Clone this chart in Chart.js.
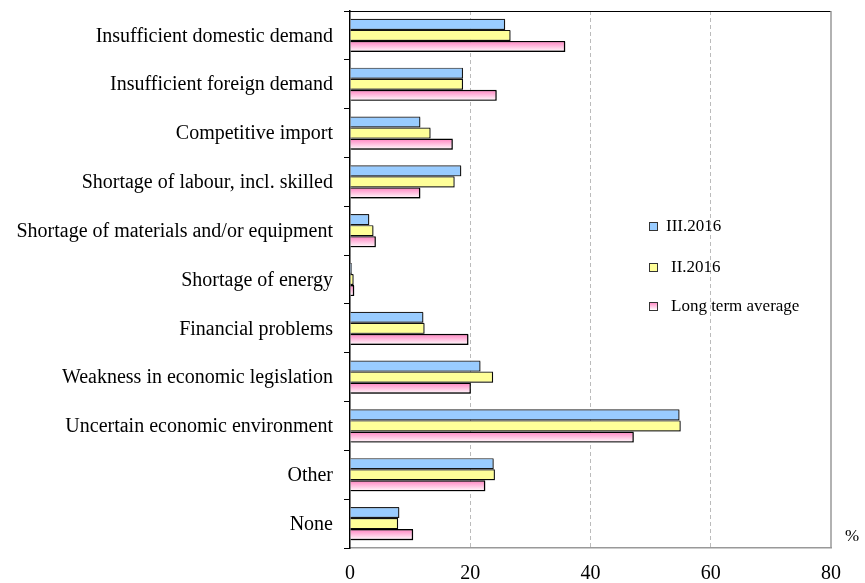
<!DOCTYPE html>
<html>
<head>
<meta charset="utf-8">
<script src="https://cdn.jsdelivr.net/npm/chart.js@4"></script>
<style>
  html, body { margin: 0; padding: 0; background: #fff; }
  #wrap { position: relative; width: 865px; height: 583px; }
  #pct { position: absolute; left: 845px; top: 526px; font: 17px "Liberation Serif", serif; color: #000; }
</style>
</head>
<body>
<div id="wrap">
  <canvas id="myChart" width="865" height="583"></canvas>
  <div id="pct">%</div>
</div>
<script>
const categories = [
  "Insufficient domestic demand",
  "Insufficient foreign demand",
  "Competitive import",
  "Shortage of labour, incl. skilled",
  "Shortage of materials and/or equipment",
  "Shortage of energy",
  "Financial problems",
  "Weakness in economic legislation",
  "Uncertain economic environment",
  "Other",
  "None"
];
const seriesNames = ["III.2016", "II.2016", "Long term average"];
const q3_2016 = [25.8, 18.8, 11.7, 18.5, 3.2, 0.3, 12.2, 21.7, 54.8, 23.9, 8.2];
const q2_2016 = [26.7, 18.8, 13.4, 17.4, 3.9, 0.6, 12.4, 23.8, 55.0, 24.1, 8.0];
const longTerm = [35.8, 24.4, 17.1, 11.7, 4.3, 0.7, 19.7, 20.1, 47.2, 22.5, 10.5];
const xTicks = [0, 20, 40, 60, 80];

const FONT = "'Liberation Serif', 'Times New Roman', serif";
const CAT_PCT = 0.68;

// pink bars fade from pink at the top edge to white at the bottom
function pinkFill(c) {
  const chart = c.chart;
  const y = chart.scales.y;
  if (!y || c.dataIndex === undefined) return "#ff99cc";
  const p0 = y.getPixelForValue(0);
  const p1 = y.getPixelForValue(1);
  const mid = y.getPixelForValue(c.dataIndex);
  if (!isFinite(p0) || !isFinite(p1) || !isFinite(mid)) return "#ff99cc";
  const group = Math.abs(p1 - p0) * CAT_PCT;
  const g = chart.ctx.createLinearGradient(0, mid + group / 6, 0, mid + group / 2);
  g.addColorStop(0, "#ff7fbf");
  g.addColorStop(1, "#ffffff");
  return g;
}

const boxLines = {
  id: "boxLines",
  beforeDatasetsDraw(chart) {
    const ctx = chart.ctx;
    ctx.save();
    ctx.shadowColor = "rgba(0,0,0,0.4)";
    ctx.shadowOffsetX = 1;
    ctx.shadowOffsetY = 1;
  },
  afterDatasetsDraw(chart) {
    chart.ctx.restore();
  },
  afterDraw(chart) {
    const ctx = chart.ctx;
    const a = chart.chartArea;
    ctx.save();
    ctx.lineWidth = 1;
    ctx.strokeStyle = "#000";
    ctx.beginPath();
    ctx.moveTo(a.left, a.top + 0.5);
    ctx.lineTo(a.right, a.top + 0.5);
    ctx.stroke();
    ctx.strokeStyle = "#999";
    ctx.lineWidth = 1.5;
    ctx.beginPath();
    ctx.moveTo(a.right, a.top);
    ctx.lineTo(a.right, a.bottom);
    ctx.stroke();

    // legend inside the plot
    const colors = ["#99ccff", "#ffff99", null];
    const x0 = a.left + 299;
    const ys = [226, 267, 306];
    ctx.font = "17px " + FONT;
    ctx.textBaseline = "middle";
    seriesNames.forEach((name, i) => {
      const y = ys[i];
      if (colors[i]) {
        ctx.fillStyle = colors[i];
      } else {
        const g = ctx.createLinearGradient(0, y - 4, 0, y + 4);
        g.addColorStop(0, "#ff7fbf");
        g.addColorStop(1, "#ffffff");
        ctx.fillStyle = g;
      }
      ctx.fillRect(x0, y - 4, 8, 8);
      ctx.strokeStyle = "#333";
      ctx.lineWidth = 1;
      ctx.strokeRect(x0 + 0.5, y - 3.5, 8, 8);
      ctx.fillStyle = "#000";
      ctx.fillText(name, x0 + (i === 0 ? 17 : 22), y + 1);
    });
    ctx.restore();
  }
};

const ctx = document.getElementById("myChart");
new Chart(ctx, {
  type: "bar",
  data: {
    labels: categories,
    datasets: [
      { label: seriesNames[0], data: q3_2016, backgroundColor: "#99ccff", borderColor: "#222", borderWidth: 1.2 },
      { label: seriesNames[1], data: q2_2016, backgroundColor: "#ffff99", borderColor: "#111", borderWidth: 1.2 },
      { label: seriesNames[2], data: longTerm, backgroundColor: pinkFill, borderColor: "#000", borderWidth: 1.4 }
    ]
  },
  options: {
    indexAxis: "y",
    responsive: false,
    animation: false,
    categoryPercentage: CAT_PCT,
    barPercentage: 1,
    layout: { padding: { top: 11, right: 34, left: 0, bottom: 0 } },
    plugins: {
      legend: { display: false },
      tooltip: { enabled: false }
    },
    scales: {
      x: {
        min: 0,
        max: 80,
        afterBuildTicks: (scale) => { scale.ticks = xTicks.map((v) => ({ value: v })); },
        afterFit: (scale) => { scale.height = 35; scale.paddingLeft = 0; scale.paddingRight = 0; },
        grid: {
          color: (c) => (c.tick && (c.tick.value === 0 || c.tick.value === 80) ? "rgba(0,0,0,0)" : "#bbb"),
          drawTicks: false
        },
        border: { display: true, color: "#999", width: 1.5, dash: [4, 3] },
        ticks: { color: "#000", padding: 14, font: { family: FONT, size: 20 } }
      },
      y: {
        afterFit: (scale) => { scale.width = 350; scale.paddingTop = 0; scale.paddingBottom = 0; },
        grid: { drawOnChartArea: false, drawTicks: true, tickLength: 6, color: "#000", offset: true },
        border: { display: true, color: "#000", width: 1.5 },
        ticks: { color: "#000", padding: 11, labelOffset: 1, font: { family: FONT, size: 20 } }
      }
    }
  },
  plugins: [boxLines]
});
</script>
</body>
</html>
